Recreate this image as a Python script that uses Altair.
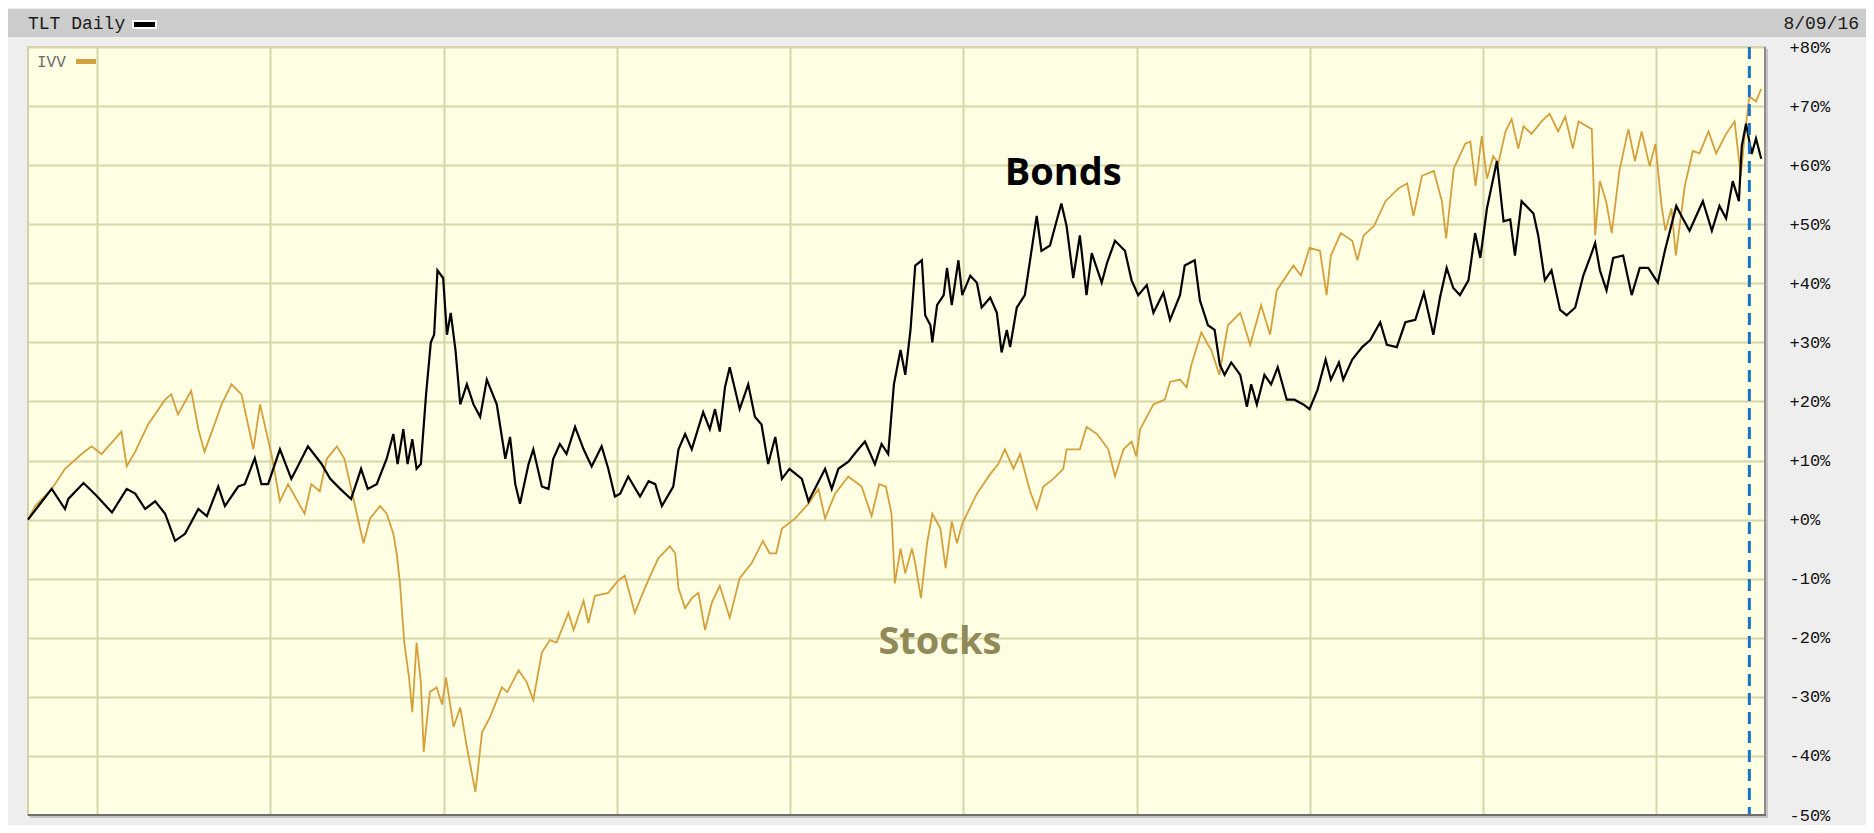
import altair as alt
import pandas as pd

# ---- data (percent change since 2006-08-09) ----
tlt = [
    ("2006-08-09", 0.0), ("2006-08-31", 2.3), ("2006-09-28", 5.2), ("2006-10-26", 1.8),
    ("2006-11-02", 3.5), ("2006-12-04", 6.2), ("2007-01-01", 4.0), ("2007-02-02", 1.2),
    ("2007-03-05", 5.2), ("2007-03-23", 4.4), ("2007-04-13", 1.8), ("2007-05-04", 3.1),
    ("2007-05-25", 1.0), ("2007-06-15", -3.6), ("2007-07-06", -2.4), ("2007-08-03", 1.8),
    ("2007-08-21", 0.6), ("2007-09-14", 5.6), ("2007-09-28", 2.3), ("2007-10-26", 5.6),
    ("2007-11-09", 6.0), ("2007-11-30", 10.4), ("2007-12-14", 6.0), ("2007-12-28", 6.0),
    ("2008-01-22", 11.9), ("2008-02-15", 6.9), ("2008-02-26", 8.6), ("2008-03-21", 12.4),
    ("2008-04-18", 9.5), ("2008-05-07", 6.9), ("2008-05-28", 5.2), ("2008-06-20", 3.5),
    ("2008-07-11", 8.6), ("2008-07-25", 5.2), ("2008-08-13", 6.0), ("2008-09-03", 10.3),
    ("2008-09-17", 14.5), ("2008-09-26", 9.4), ("2008-10-08", 15.3), ("2008-10-17", 9.4),
    ("2008-10-27", 13.6), ("2008-11-05", 8.6), ("2008-11-14", 9.4), ("2008-11-25", 21.2),
    ("2008-12-05", 30.0), ("2008-12-12", 31.3), ("2008-12-19", 42.2), ("2008-12-31", 40.9),
    ("2009-01-08", 31.3), ("2009-01-16", 35.0), ("2009-01-26", 28.7), ("2009-02-05", 19.5),
    ("2009-02-19", 22.9), ("2009-03-05", 19.5), ("2009-03-19", 17.4), ("2009-04-02", 23.7),
    ("2009-04-23", 19.5), ("2009-05-11", 10.3), ("2009-05-21", 14.0), ("2009-06-01", 6.0),
    ("2009-06-11", 2.7), ("2009-06-29", 9.4), ("2009-07-09", 11.9), ("2009-07-27", 5.6),
    ("2009-08-10", 5.2), ("2009-08-20", 10.3), ("2009-09-03", 12.8), ("2009-09-17", 11.1),
    ("2009-10-05", 15.7), ("2009-10-23", 11.9), ("2009-11-09", 9.0), ("2009-11-30", 12.4),
    ("2009-12-14", 8.6), ("2009-12-28", 3.9), ("2010-01-08", 4.4), ("2010-01-25", 7.3),
    ("2010-02-19", 3.9), ("2010-03-09", 6.5), ("2010-03-23", 6.0), ("2010-04-06", 2.3),
    ("2010-04-30", 5.6), ("2010-05-11", 11.9), ("2010-05-25", 14.5), ("2010-06-08", 11.9),
    ("2010-07-02", 18.2), ("2010-07-16", 15.3), ("2010-07-27", 18.7), ("2010-08-06", 14.9),
    ("2010-08-17", 22.4), ("2010-08-27", 25.8), ("2010-09-17", 18.7), ("2010-10-05", 22.9),
    ("2010-10-19", 17.4), ("2010-11-02", 16.1), ("2010-11-16", 9.4), ("2010-12-01", 14.0),
    ("2010-12-15", 6.9), ("2010-12-31", 8.6), ("2011-01-26", 6.9), ("2011-02-09", 3.1),
    ("2011-02-25", 5.6), ("2011-03-16", 8.6), ("2011-03-30", 5.2), ("2011-04-13", 8.6),
    ("2011-05-04", 9.8), ("2011-05-25", 11.9), ("2011-06-08", 13.2), ("2011-06-29", 9.4),
    ("2011-07-13", 12.8), ("2011-07-27", 11.1), ("2011-08-08", 22.9), ("2011-08-22", 28.7),
    ("2011-09-01", 24.5), ("2011-09-12", 32.1), ("2011-09-22", 43.0), ("2011-10-06", 43.9),
    ("2011-10-13", 34.6), ("2011-10-24", 32.9), ("2011-10-28", 30.0), ("2011-11-07", 36.3),
    ("2011-11-21", 38.0), ("2011-11-28", 42.6), ("2011-12-08", 36.3), ("2011-12-22", 43.9),
    ("2011-12-30", 38.0), ("2012-01-16", 41.3), ("2012-01-30", 40.1), ("2012-02-09", 35.9),
    ("2012-02-27", 37.6), ("2012-03-12", 35.0), ("2012-03-22", 28.3), ("2012-04-02", 32.1),
    ("2012-04-09", 29.2), ("2012-04-23", 35.9), ("2012-05-10", 38.0), ("2012-05-21", 43.9),
    ("2012-06-04", 51.4), ("2012-06-14", 45.5), ("2012-07-02", 46.4), ("2012-07-16", 50.6),
    ("2012-07-26", 53.5), ("2012-08-06", 49.7), ("2012-08-20", 40.9), ("2012-09-03", 48.1),
    ("2012-09-17", 38.0), ("2012-09-28", 45.1), ("2012-10-19", 40.1), ("2012-10-30", 43.4),
    ("2012-11-16", 47.2), ("2012-12-07", 45.5), ("2012-12-21", 40.5), ("2013-01-04", 38.0),
    ("2013-01-22", 39.7), ("2013-02-05", 35.0), ("2013-02-26", 38.4), ("2013-03-12", 33.8),
    ("2013-04-02", 38.0), ("2013-04-12", 43.0), ("2013-05-03", 43.9), ("2013-05-14", 37.1),
    ("2013-05-31", 32.9), ("2013-06-14", 32.1), ("2013-06-25", 26.2), ("2013-07-05", 24.5),
    ("2013-07-19", 26.6), ("2013-08-07", 24.5), ("2013-08-21", 19.1), ("2013-08-30", 22.9),
    ("2013-09-11", 19.5), ("2013-09-27", 24.5), ("2013-10-11", 22.9), ("2013-10-25", 25.8),
    ("2013-11-13", 20.3), ("2013-11-29", 20.3), ("2013-12-18", 19.5), ("2013-12-31", 18.7),
    ("2014-01-17", 22.0), ("2014-02-03", 27.1), ("2014-02-14", 23.7), ("2014-03-03", 26.6),
    ("2014-03-12", 23.7), ("2014-03-31", 27.1), ("2014-04-21", 29.2), ("2014-05-08", 30.4),
    ("2014-05-29", 33.4), ("2014-06-12", 29.6), ("2014-07-03", 29.2), ("2014-07-21", 33.4),
    ("2014-08-11", 33.8), ("2014-08-29", 38.4), ("2014-09-18", 31.3), ("2014-10-02", 37.6),
    ("2014-10-16", 42.6), ("2014-10-30", 39.2), ("2014-11-13", 38.0), ("2014-12-01", 40.5),
    ("2014-12-15", 48.5), ("2014-12-26", 44.3), ("2015-01-09", 52.7), ("2015-01-30", 60.7),
    ("2015-02-13", 50.5), ("2015-02-27", 50.8), ("2015-03-09", 44.7), ("2015-03-23", 53.9),
    ("2015-04-17", 51.8), ("2015-04-27", 48.1), ("2015-05-11", 40.5), ("2015-05-25", 42.2),
    ("2015-06-12", 35.5), ("2015-06-26", 34.6), ("2015-07-14", 35.9), ("2015-07-31", 41.3),
    ("2015-08-14", 44.3), ("2015-08-25", 46.8), ("2015-09-04", 42.2), ("2015-09-18", 38.8),
    ("2015-10-02", 44.3), ("2015-10-23", 44.7), ("2015-11-10", 38.0), ("2015-11-27", 42.6),
    ("2015-12-15", 42.6), ("2016-01-04", 40.1), ("2016-01-19", 45.5), ("2016-02-12", 53.1),
    ("2016-02-23", 51.4), ("2016-03-11", 48.9), ("2016-04-08", 53.9), ("2016-04-27", 48.9),
    ("2016-05-13", 53.1), ("2016-05-27", 51.0), ("2016-06-10", 57.3), ("2016-06-23", 53.9),
    ("2016-06-29", 63.2), ("2016-07-08", 67.0), ("2016-07-20", 61.9), ("2016-07-29", 64.5),
    ("2016-08-09", 61.1),
]

ivv = [
    ("2006-08-09", 0.0), ("2006-08-24", 2.3), ("2006-09-28", 5.2), ("2006-10-26", 8.6),
    ("2006-11-30", 11.1), ("2006-12-21", 12.4), ("2007-01-11", 11.1), ("2007-02-22", 14.9),
    ("2007-03-05", 9.0), ("2007-03-23", 11.5), ("2007-04-19", 16.1), ("2007-05-25", 20.3),
    ("2007-06-07", 21.2), ("2007-06-21", 17.8), ("2007-07-19", 21.8), ("2007-08-03", 15.3),
    ("2007-08-16", 11.5), ("2007-09-10", 17.0), ("2007-09-21", 19.5), ("2007-10-12", 22.9),
    ("2007-11-02", 21.2), ("2007-11-27", 11.9), ("2007-12-11", 19.5), ("2008-01-04", 11.1),
    ("2008-01-22", 3.1), ("2008-02-08", 6.0), ("2008-03-14", 1.0), ("2008-03-28", 6.0),
    ("2008-04-15", 4.8), ("2008-04-25", 8.6), ("2008-04-30", 10.3), ("2008-05-21", 12.4),
    ("2008-06-06", 10.3), ("2008-06-18", 6.0), ("2008-07-02", 1.0), ("2008-07-16", -4.0),
    ("2008-07-30", 0.2), ("2008-08-20", 2.3), ("2008-09-03", 1.0), ("2008-09-17", -2.4),
    ("2008-09-24", -5.7), ("2008-10-01", -10.8), ("2008-10-10", -20.8), ("2008-10-20", -26.7),
    ("2008-10-27", -32.6), ("2008-11-05", -20.8), ("2008-11-14", -27.5), ("2008-11-20", -39.3),
    ("2008-12-03", -29.2), ("2008-12-17", -28.4), ("2008-12-29", -31.3), ("2009-01-06", -26.7),
    ("2009-01-22", -35.1), ("2009-02-05", -31.8), ("2009-02-19", -38.5), ("2009-03-09", -46.1),
    ("2009-03-23", -36.0), ("2009-04-09", -33.4), ("2009-05-04", -28.4), ("2009-05-15", -29.2),
    ("2009-06-08", -25.5), ("2009-06-25", -27.5), ("2009-07-09", -30.5), ("2009-07-27", -22.5),
    ("2009-08-13", -20.4), ("2009-08-27", -20.8), ("2009-09-21", -15.8), ("2009-10-02", -18.7),
    ("2009-10-23", -13.7), ("2009-11-02", -17.5), ("2009-11-16", -12.9), ("2009-12-14", -12.4),
    ("2010-01-04", -10.3), ("2010-01-18", -9.5), ("2010-02-08", -15.8), ("2010-03-01", -11.6),
    ("2010-03-29", -6.6), ("2010-04-23", -4.5), ("2010-05-04", -5.7), ("2010-05-11", -11.6),
    ("2010-05-25", -15.0), ("2010-06-08", -13.3), ("2010-06-22", -12.4), ("2010-07-06", -18.7),
    ("2010-07-20", -14.1), ("2010-08-06", -11.2), ("2010-08-27", -16.6), ("2010-09-17", -9.9),
    ("2010-10-12", -7.4), ("2010-11-05", -3.6), ("2010-11-19", -5.7), ("2010-12-03", -5.7),
    ("2010-12-15", -1.5), ("2011-01-12", 0.2), ("2011-02-09", 2.7), ("2011-03-02", 5.2),
    ("2011-03-16", 0.2), ("2011-04-06", 4.4), ("2011-05-04", 7.3), ("2011-06-01", 5.6),
    ("2011-06-22", 0.6), ("2011-07-08", 6.0), ("2011-07-22", 5.6), ("2011-08-03", 1.0),
    ("2011-08-10", -10.8), ("2011-08-22", -4.9), ("2011-09-01", -9.1), ("2011-09-15", -4.9),
    ("2011-09-22", -7.4), ("2011-10-04", -13.3), ("2011-10-17", -4.0), ("2011-10-28", 1.0),
    ("2011-11-14", -1.5), ("2011-11-25", -8.2), ("2011-12-08", -0.3), ("2011-12-19", -4.0),
    ("2011-12-30", -0.7), ("2012-01-30", 4.4), ("2012-02-27", 7.7), ("2012-03-15", 9.4),
    ("2012-03-29", 11.9), ("2012-04-16", 8.6), ("2012-04-30", 11.1), ("2012-05-21", 4.8),
    ("2012-06-04", 1.8), ("2012-06-18", 5.6), ("2012-07-09", 6.9), ("2012-07-30", 8.6),
    ("2012-08-06", 11.9), ("2012-09-03", 11.9), ("2012-09-17", 15.7), ("2012-10-09", 14.5),
    ("2012-11-02", 11.9), ("2012-11-16", 7.3), ("2012-12-04", 11.9), ("2012-12-21", 13.2),
    ("2012-12-31", 10.7), ("2013-01-08", 15.3), ("2013-02-05", 19.5), ("2013-03-01", 20.3),
    ("2013-03-12", 23.3), ("2013-04-02", 23.7), ("2013-04-16", 22.4), ("2013-04-26", 26.2),
    ("2013-05-17", 31.7), ("2013-05-31", 29.6), ("2013-06-07", 28.7), ("2013-06-24", 24.5),
    ("2013-07-12", 32.9), ("2013-08-07", 35.0), ("2013-08-28", 29.6), ("2013-09-20", 36.3),
    ("2013-10-09", 31.3), ("2013-10-23", 38.8), ("2013-11-27", 43.0), ("2013-12-13", 41.3),
    ("2013-12-31", 46.0), ("2014-01-22", 45.5), ("2014-02-05", 38.0), ("2014-02-14", 44.7),
    ("2014-03-07", 48.5), ("2014-03-31", 47.2), ("2014-04-11", 43.9), ("2014-04-24", 48.1),
    ("2014-05-16", 49.7), ("2014-06-09", 53.9), ("2014-07-07", 56.1), ("2014-07-25", 56.9),
    ("2014-08-07", 51.4), ("2014-08-25", 58.2), ("2014-09-19", 59.0), ("2014-10-06", 53.9),
    ("2014-10-15", 47.6), ("2014-10-31", 59.4), ("2014-11-24", 63.6), ("2014-12-05", 64.0),
    ("2014-12-16", 56.5), ("2014-12-29", 64.9), ("2015-01-09", 57.7), ("2015-01-22", 61.5),
    ("2015-02-02", 60.3), ("2015-02-17", 65.7), ("2015-03-02", 67.8), ("2015-03-16", 62.8),
    ("2015-03-27", 66.6), ("2015-04-13", 65.3), ("2015-05-04", 67.4), ("2015-05-21", 68.7),
    ("2015-06-08", 65.7), ("2015-06-23", 68.2), ("2015-07-09", 62.8), ("2015-07-21", 67.4),
    ("2015-08-18", 66.1), ("2015-08-25", 48.1), ("2015-09-04", 57.3), ("2015-09-17", 53.9),
    ("2015-09-29", 48.5), ("2015-10-15", 59.0), ("2015-11-03", 66.1), ("2015-11-17", 60.7),
    ("2015-12-01", 65.7), ("2015-12-18", 59.8), ("2015-12-30", 63.6), ("2016-01-12", 53.1),
    ("2016-01-20", 48.9), ("2016-02-02", 52.7), ("2016-02-11", 44.7), ("2016-03-01", 56.5),
    ("2016-03-18", 62.4), ("2016-04-01", 62.0), ("2016-04-20", 65.7), ("2016-05-06", 62.0),
    ("2016-05-27", 65.3), ("2016-06-14", 67.4), ("2016-06-27", 58.2), ("2016-07-05", 64.9),
    ("2016-07-15", 71.6), ("2016-07-29", 70.8), ("2016-08-09", 72.9),
]

y_ticks = [-50, -40, -30, -20, -10, 0, 10, 20, 30, 40, 50, 60, 70, 80]
year_lines = list(range(2007, 2017))
marker_date = "2016-07-15"
annotations = [
    {"date": "2012-07-30", "pct": 56.7, "text": "Bonds", "color": "#000000"},
    {"date": "2011-11-13", "pct": -22.8, "text": "Stocks", "color": "#918a58"},
]
header_left = "TLT Daily"
header_right = "8/09/16"
overlay_name = "IVV"

# ---- build tables ----
df = pd.DataFrame(
    [{"date": d, "pct": v, "sym": "TLT"} for d, v in tlt]
    + [{"date": d, "pct": v, "sym": "IVV"} for d, v in ivv]
)
ann = pd.DataFrame(annotations)
one = pd.DataFrame({"k": [0]})

W, H = 1737, 768
TOP = 39
x_scale = alt.Scale(domain=[alt.DateTime(year=2006, month=8, date=9, utc=True),
                            alt.DateTime(year=2016, month=8, date=17, utc=True)])
y_scale = alt.Scale(domain=[-50, 80], nice=False, zero=False)

grid_col = "#d6d6a8"
x_axis = alt.Axis(values=[alt.DateTime(year=y, month=1, date=1, utc=True) for y in year_lines],
                  grid=True, gridColor=grid_col, gridWidth=2, labels=False, ticks=False,
                  domain=False, title=None)
y_axis = alt.Axis(orient="right", values=y_ticks, grid=True, gridColor=grid_col, gridWidth=2,
                  ticks=False, tickSize=0, domain=False, title=None, labelPadding=24,
                  labelFont="Liberation Mono", labelFontSize=17, labelColor="#111111",
                  labelExpr="(datum.value >= 0 ? '+' : '') + datum.value + '%'")

X = alt.X("date:T", scale=x_scale, axis=x_axis)
Y = alt.Y("pct:Q", scale=y_scale, axis=y_axis)

ivv_line = alt.Chart(df).transform_filter(alt.datum.sym == "IVV").mark_line(
    color="#d4a03c", strokeWidth=1.8).encode(x=X, y=Y)
tlt_line = alt.Chart(df).transform_filter(alt.datum.sym == "TLT").mark_line(
    color="#000000", strokeWidth=2.2).encode(x=X, y=Y)

marker = alt.Chart(pd.DataFrame({"date": [marker_date]})).mark_rule(
    color="#1a72c4", strokeWidth=3, strokeDash=[12, 7]).encode(x=X)

labels = alt.Chart(ann).mark_text(font="Open Sans", fontSize=38, fontWeight="bold",
                                  align="center", baseline="alphabetic").encode(
    x=X, y=Y, text="text:N", color=alt.Color("color:N", scale=None))

# frame shadow (right & bottom)
frame_r = alt.Chart(one).mark_rule(color="#8c8c8c", strokeWidth=2).encode(
    x=alt.value(W), y=alt.value(0), y2=alt.value(H + 1))
frame_b = alt.Chart(one).mark_rule(color="#6e6e6e", strokeWidth=2).encode(
    x=alt.value(0), x2=alt.value(W + 1), y=alt.value(H))
shadow_r = alt.Chart(one).mark_rule(color="#c4c4c4", strokeWidth=2).encode(
    x=alt.value(W + 2), y=alt.value(2), y2=alt.value(H + 3))
shadow_b = alt.Chart(one).mark_rule(color="#c4c4c4", strokeWidth=2).encode(
    x=alt.value(2), x2=alt.value(W + 3), y=alt.value(H + 2))

# header band (page y 9..37)
hb_top = 1 - TOP
hb_mid = 16 - TOP
header = alt.Chart(one).mark_rect(color="#cccccc").encode(
    x=alt.value(-20), x2=alt.value(1838), y=alt.value(hb_top), y2=alt.value(29 - TOP))
head_txt = alt.Chart(one).mark_text(font="Liberation Mono", fontSize=18, align="left",
                                    baseline="middle", color="#1a1a1a").encode(
    x=alt.value(0), y=alt.value(hb_mid), text=alt.value(header_left))
head_sw_bg = alt.Chart(one).mark_rect(color="#ffffff").encode(
    x=alt.value(104), x2=alt.value(129), y=alt.value(hb_mid - 4), y2=alt.value(hb_mid + 5))
head_sw = alt.Chart(one).mark_rect(color="#000000").encode(
    x=alt.value(106), x2=alt.value(127), y=alt.value(hb_mid - 2), y2=alt.value(hb_mid + 3))
date_txt = alt.Chart(one).mark_text(font="Liberation Mono", fontSize=18, align="right",
                                    baseline="middle", color="#1a1a1a").encode(
    x=alt.value(1831), y=alt.value(hb_mid), text=alt.value(header_right))

# overlay legend inside plot
ov_txt = alt.Chart(one).mark_text(font="Liberation Mono", fontSize=16, align="left",
                                  baseline="middle", color="#6a6a6a").encode(
    x=alt.value(9), y=alt.value(15), text=alt.value(overlay_name))
ov_sw = alt.Chart(one).mark_rect(color="#d4a03c").encode(
    x=alt.value(48), x2=alt.value(68), y=alt.value(12), y2=alt.value(17))

chart = alt.layer(
    ivv_line, tlt_line, marker, labels, frame_r, frame_b, shadow_r, shadow_b,
    header, head_txt, head_sw_bg, head_sw, date_txt, ov_txt, ov_sw
).properties(
    width=W, height=H,
    autosize=alt.AutoSizeParams(type="none"),
    padding={"left": 20, "top": TOP, "right": 101, "bottom": 10},
).configure(background="#eeeeee").configure_view(fill="#ffffe4", stroke="#d2d2a4", strokeWidth=2)

chart.save("out.html", embed_options={"renderer": "svg", "actions": False})
